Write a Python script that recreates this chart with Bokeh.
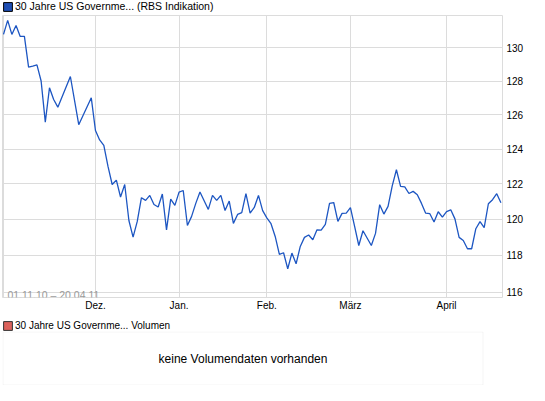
from bokeh.plotting import figure
from bokeh.layouts import column
from bokeh.models import (Range1d, FixedTicker, NumeralTickFormatter, Legend,
                          LegendItem, Label, BoxAnnotation)
from bokeh.embed import file_html
from bokeh.resources import INLINE

# trading-day index (0 = 01.11.10 ... 119 = 20.04.11) and price at each turning point
day = [0, 1, 2, 3, 4, 5, 6, 7, 8, 9, 10, 11, 12, 13, 16, 18, 21, 22, 23, 24,
       25, 26, 27, 28, 29, 30, 31, 32, 33, 34, 35, 36, 37, 38, 39, 40, 41, 42,
       43, 44, 45, 46, 47, 49, 50, 51, 52, 53, 54, 55, 56, 57, 58, 59, 60, 61,
       62, 63, 64, 65, 66, 67, 68, 69, 70, 71, 72, 73, 74, 75, 76, 77, 78, 79,
       80, 81, 82, 83, 84, 85, 86, 88, 89, 90, 91, 92, 93, 94, 95, 96, 97, 98,
       99, 100, 101, 102, 103, 104, 105, 106, 107, 108, 109, 110, 111, 112,
       113, 114, 115, 116, 117, 118, 119]
price = [130.81, 131.67, 130.81, 131.36, 130.69, 130.69, 128.83, 128.89,
         128.97, 128.00, 125.57, 127.60, 126.90, 126.45, 128.27, 125.42,
         127.00, 125.08, 124.53, 124.21, 123.00, 121.97, 122.22, 121.26,
         121.97, 119.94, 119.01, 119.89, 121.22, 121.07, 121.35, 120.84,
         120.70, 121.43, 119.42, 121.14, 120.79, 121.54, 121.63, 119.66,
         120.17, 120.90, 121.54, 120.56, 121.35, 121.07, 121.35, 120.50,
         121.03, 119.78, 120.28, 120.38, 121.45, 120.35, 120.67, 121.35,
         120.49, 120.09, 119.76, 119.05, 118.06, 118.15, 117.27, 118.13,
         117.54, 118.50, 119.00, 119.13, 118.87, 119.42, 119.40, 119.72,
         120.90, 120.95, 119.89, 120.34, 120.35, 120.66, 119.61, 118.55,
         119.37, 118.55, 119.22, 120.83, 120.30, 120.73, 121.89, 122.81,
         121.86, 121.84, 121.46, 121.58, 121.39, 120.90, 120.35, 120.32,
         119.86, 120.43, 120.13, 120.44, 120.54, 120.03, 119.00, 118.83,
         118.37, 118.37, 119.48, 119.88, 119.54, 120.88, 121.11, 121.45,
         120.94]

month_ticks = [0, 22, 42, 63, 83, 106]
month_labels = ["", "Dez.", "Jan.", "Feb.", "März", "April"]
price_ticks = [116, 118, 120, 122, 124, 126, 128, 130]

title_main = "30 Jahre US Governme... (RBS Indikation)"
title_vol = "30 Jahre US Governme... Volumen"
period = "01.11.10 \u2013 20.04.11"
no_volume = "keine Volumendaten vorhanden"

FONT = "Liberation Sans"
GRID = "#dcdcdc"
W, BL, BR = 529, 2, 27          # same side borders for every strip


def header(height, label, fill, edge, size, where):
    """A thin strip holding the series name with its colour swatch."""
    h = figure(width=W, height=height, x_range=Range1d(0, 1),
               y_range=Range1d(0, 1), x_axis_location=None,
               y_axis_location=None, output_backend="svg",
               toolbar_location=None, min_border_left=BL,
               min_border_right=BR, min_border_top=0, min_border_bottom=0,
               background_fill_color="white", border_fill_color="white")
    h.outline_line_color = None
    h.grid.visible = False
    # swatch renderer sits outside the visible range; only its legend icon shows
    sw = h.quad(left=[5], right=[6], top=[6], bottom=[5], fill_color=fill,
                line_color=edge, line_width=1)
    h.add_layout(Legend(items=[LegendItem(label=label, renderers=[sw])],
                        location=where, orientation="horizontal",
                        glyph_width=11, glyph_height=11, label_standoff=2,
                        label_height=11, label_width=10, padding=0, margin=0,
                        spacing=0, border_line_color=None,
                        background_fill_alpha=0, label_text_font=FONT,
                        label_text_font_size=size,
                        label_text_color="#000000"))
    return h


# ---------------- main price chart ----------------
head1 = header(14, title_main, "#1f4fb4", "#000000", "10.5px", "top_left")

p = figure(width=W, height=299,
           x_range=Range1d(-0.24, 119.38), y_range=Range1d(115.71, 131.97),
           y_axis_type="log", y_axis_location="right",
           output_backend="svg", toolbar_location=None,
           min_border_left=BL, min_border_right=BR, min_border_top=1,
           min_border_bottom=16,
           background_fill_color="white", border_fill_color="white")
p.outline_line_color = GRID
p.outline_line_width = 1

p.line(day, price, line_color="#1d56c2", line_width=1.3)

p.xaxis.ticker = FixedTicker(ticks=month_ticks, minor_ticks=[])
p.xaxis.major_label_overrides = dict(zip(month_ticks, month_labels))
p.yaxis.ticker = FixedTicker(ticks=price_ticks, minor_ticks=[])
p.yaxis.formatter = NumeralTickFormatter(format="0")
for ax in (p.xaxis[0], p.yaxis[0]):
    ax.axis_line_color = None
    ax.major_tick_line_color = None
    ax.minor_tick_line_color = None
    ax.major_tick_in = 0
    ax.major_tick_out = 0
    ax.major_label_text_font = FONT
    ax.major_label_text_font_size = "10px"
    ax.major_label_text_color = "#000000"
p.xaxis.major_label_standoff = 2
p.yaxis.major_label_standoff = 4
p.grid.grid_line_color = GRID
p.grid.grid_line_width = 1

p.add_layout(Label(x=5, y=3, x_units="screen", y_units="screen", text=period,
                   text_color="#999999", text_font=FONT,
                   text_font_size="10.5px", text_baseline="alphabetic"))

# ---------------- volume panel ----------------
head2 = header(18, title_vol, "#dc625c", "#333333", "10px", "bottom_left")

v = figure(width=W, height=54,
           x_range=Range1d(0, 500), y_range=Range1d(0, 54),
           x_axis_location=None, y_axis_location=None,
           output_backend="svg", toolbar_location=None,
           min_border_left=BL, min_border_right=BR, min_border_top=0,
           min_border_bottom=0,
           background_fill_color="white", border_fill_color="white")
v.grid.visible = False
v.outline_line_color = None
v.add_layout(BoxAnnotation(left=0.5, right=480.5, bottom=0.5, top=53.5,
                           left_units="screen", right_units="screen",
                           bottom_units="screen", top_units="screen",
                           fill_alpha=0, line_color=GRID, line_width=1))
v.add_layout(Label(x=240.5, y=27, x_units="screen", y_units="screen",
                   text=no_volume, text_align="center",
                   text_baseline="middle", text_font=FONT,
                   text_font_size="12px", text_color="#000000"))

layout = column(head1, p, head2, v)
open("out.html", "w").write(file_html(layout, INLINE))
